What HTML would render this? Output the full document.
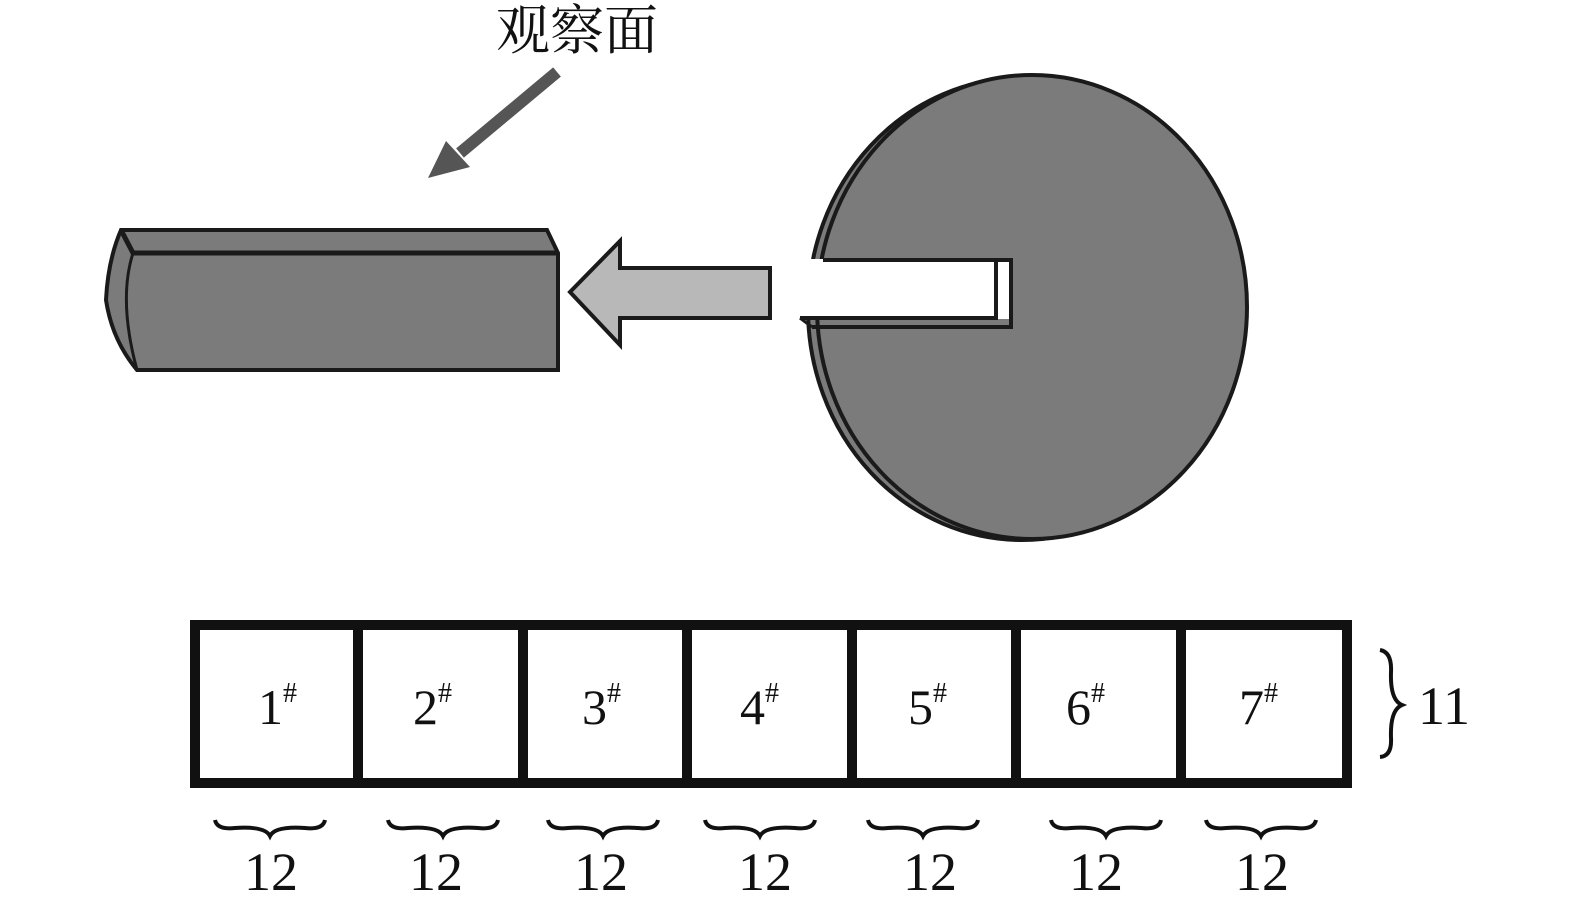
<!DOCTYPE html>
<html><head><meta charset="utf-8"><style>
html,body{margin:0;padding:0;background:#fff;}
svg{display:block;}
text{font-family:"Liberation Serif","Noto Serif CJK SC",serif;fill:#111;}
</style></head><body>
<svg width="1575" height="911" viewBox="0 0 1575 911" xmlns="http://www.w3.org/2000/svg">
<defs>
<path id="b" d="M-55,0 Q-53,10 -35,8 Q-5,6 0,16 Q5,6 35,8 Q53,10 55,0"/>
</defs>
<text x="496" y="49" font-size="54" font-family="Noto Serif CJK SC, serif">观察面</text>
<line x1="557" y1="72" x2="460" y2="153" stroke="#555" stroke-width="12"/>
<polygon points="428,178 446,141 470,167" fill="#555"/>
<path d="M121,230 L547,230 L558,253 L558,370 L137,370 Q112,340 106,300 Q108,260 121,230 Z" fill="#7b7b7b" stroke="#1a1a1a" stroke-width="4"/>
<path d="M121,230 L133,253 L558,253" fill="none" stroke="#1a1a1a" stroke-width="5"/>
<path d="M133,253 Q118,300 137,370" fill="none" stroke="#1a1a1a" stroke-width="3"/>
<polygon points="570,292 620,241 620,268 770,268 770,318 620,318 620,345" fill="#b8b8b8" stroke="#1a1a1a" stroke-width="4"/>
<ellipse cx="1022" cy="309" rx="214" ry="231" fill="#7b7b7b" stroke="#1a1a1a" stroke-width="4"/>
<ellipse cx="1032" cy="307" rx="215" ry="232" fill="#7b7b7b" stroke="#1a1a1a" stroke-width="4"/>
<rect x="780" y="259" width="233" height="60" fill="#fff"/>
<path d="M823,260 L1011,260 L1011,327 L812,327" fill="none" stroke="#1a1a1a" stroke-width="4"/>
<path d="M800,318 L996,318 L996,260" fill="none" stroke="#1a1a1a" stroke-width="4"/>
<path d="M800,318 L812,327" fill="none" stroke="#1a1a1a" stroke-width="3"/>
<rect x="195" y="625" width="1152" height="158" fill="#fff" stroke="#111" stroke-width="10"/>
<g stroke="#111" stroke-width="10">
<line x1="358" y1="625" x2="358" y2="783"/><line x1="523" y1="625" x2="523" y2="783"/>
<line x1="687" y1="625" x2="687" y2="783"/><line x1="852" y1="625" x2="852" y2="783"/>
<line x1="1016" y1="625" x2="1016" y2="783"/><line x1="1181" y1="625" x2="1181" y2="783"/>
</g>
<g font-size="50">
<text x="258" y="724">1<tspan font-size="28" dy="-22">#</tspan></text>
<text x="413" y="724">2<tspan font-size="28" dy="-22">#</tspan></text>
<text x="582" y="724">3<tspan font-size="28" dy="-22">#</tspan></text>
<text x="740" y="724">4<tspan font-size="28" dy="-22">#</tspan></text>
<text x="908" y="724">5<tspan font-size="28" dy="-22">#</tspan></text>
<text x="1066" y="724">6<tspan font-size="28" dy="-22">#</tspan></text>
<text x="1239" y="724">7<tspan font-size="28" dy="-22">#</tspan></text>
</g>
<g fill="none" stroke="#111" stroke-width="4">
<use href="#b" transform="translate(270,820)"/>
<use href="#b" transform="translate(443,820)"/>
<use href="#b" transform="translate(603,820)"/>
<use href="#b" transform="translate(760,820)"/>
<use href="#b" transform="translate(923,820)"/>
<use href="#b" transform="translate(1106,820)"/>
<use href="#b" transform="translate(1261,820)"/>
</g>
<g font-size="54">
<text x="244" y="890">12</text><text x="409" y="890">12</text><text x="574" y="890">12</text>
<text x="738" y="890">12</text><text x="903" y="890">12</text><text x="1069" y="890">12</text>
<text x="1235" y="890">12</text>
</g>
<path d="M1380,650 Q1392,652 1391,672 Q1390,700 1402,705 Q1390,710 1391,738 Q1392,756 1380,757" fill="none" stroke="#111" stroke-width="4"/>
<text x="1418" y="724" font-size="54">11</text>
</svg>
</body></html>
